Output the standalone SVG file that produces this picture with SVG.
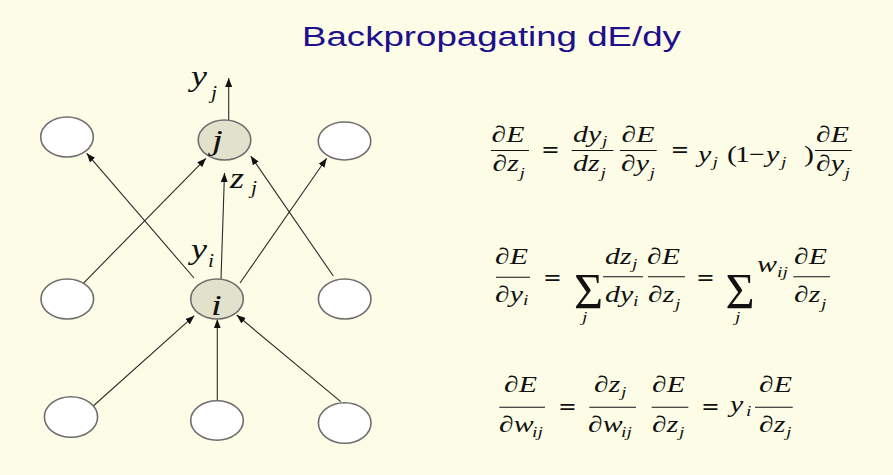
<svg xmlns="http://www.w3.org/2000/svg" width="893" height="475" viewBox="0 0 893 475">
<style>
.bg{fill:#FDFDE7}
.n{fill:#FFFFFF;stroke:#6E6E6E;stroke-width:1.6}
.h{fill:#E2E2CC;stroke:#6E6E6E;stroke-width:1.6}
.c{stroke:#2A2A2A;stroke-width:1.1;fill:none;marker-end:url(#ah)}
.t{font-family:"Liberation Sans",Arial,sans-serif;font-size:28.2px;fill:#1E0F8C}
.m{font-family:"Liberation Serif","Times New Roman",serif;font-size:23px;fill:#111}
.s{font-family:"Liberation Serif","Times New Roman",serif;font-size:15px;fill:#111;font-style:italic}
.i{font-style:italic}
.lab{font-family:"Liberation Serif","Times New Roman",serif;font-size:30px;font-style:italic;fill:#111}
.lsub{font-family:"Liberation Serif","Times New Roman",serif;font-size:18px;font-style:italic;fill:#111}
.bar{stroke:#111;stroke-width:1.1}
.eq{font-family:"Liberation Serif","Times New Roman",serif;font-size:23px;fill:#111;font-weight:bold}
.sig{font-family:"Liberation Serif","Times New Roman",serif;font-size:50px;fill:#111}
</style>
<defs>
<marker id="ah" markerUnits="userSpaceOnUse" markerWidth="9" markerHeight="7" refX="9" refY="3.5" orient="auto">
<path d="M0,0 L9,3.5 L0,7 z" fill="#111"/>
</marker>
</defs>
<rect class="bg" x="0" y="0" width="893" height="475"/>
<text class="t" transform="translate(302 46) scale(1.3 1)">Backpropagating dE/dy</text>

<g id="connectors">
<line class="c" x1="194" y1="278" x2="86.7" y2="153.3"/>
<line class="c" x1="83.3" y1="283.3" x2="206" y2="158.3"/>
<line class="c" x1="240" y1="283" x2="326.7" y2="158.3"/>
<line class="c" x1="333.3" y1="276" x2="250.7" y2="156"/>
<line class="c" x1="221" y1="279" x2="224.5" y2="173"/>
<line class="c" x1="228.7" y1="120" x2="228.7" y2="78"/>
<line class="c" x1="91" y1="408" x2="194.3" y2="315.7"/>
<line class="c" x1="217.3" y1="400.7" x2="217.3" y2="319.3"/>
<line class="c" x1="340.7" y1="401.7" x2="236.7" y2="315"/>
</g>

<g id="node-top-left"><ellipse class="n" cx="67" cy="137" rx="26.3" ry="20"/></g>
<g id="node-j"><ellipse class="h" cx="224.5" cy="140" rx="26.3" ry="20"/><text class="lab" transform="translate(212 150) scale(1.3 1)">j</text></g>
<g id="node-top-right"><ellipse class="n" cx="344.5" cy="141" rx="26.3" ry="19"/></g>
<g id="node-mid-left"><ellipse class="n" cx="67.3" cy="299" rx="26.3" ry="20"/></g>
<g id="node-i"><ellipse class="h" cx="217" cy="299" rx="26.3" ry="20"/><text class="lab" transform="translate(211 315) scale(1.3 1)">i</text></g>
<g id="node-mid-right"><ellipse class="n" cx="344.7" cy="299" rx="26.3" ry="20"/></g>
<g id="node-bot-left"><ellipse class="n" cx="71" cy="417" rx="26.6" ry="20.3"/></g>
<g id="node-bot-mid"><ellipse class="n" cx="217" cy="420.5" rx="26.3" ry="19.7"/></g>
<g id="node-bot-right"><ellipse class="n" cx="344.7" cy="423" rx="26.3" ry="20.3"/></g>

<g id="labels">
<text class="lab" transform="translate(191 86) scale(1.2 1)">y</text><text class="lsub" transform="translate(211 99) scale(1.2 1)">j</text>
<text class="lab" transform="translate(230 188) scale(1.2 1)">z</text><text class="lsub" transform="translate(251 194) scale(1.2 1)">j</text>
<text class="lab" transform="translate(191 259) scale(1.2 1)">y</text><text class="lsub" transform="translate(208 267) scale(1.2 1)">i</text>
</g>

<g id="eq1">
<text class="m" transform="translate(491.5 142) scale(1.3 1)">∂<tspan class="i">E</tspan></text>
<line class="bar" x1="491" y1="150.5" x2="529" y2="150.5"/>
<text class="m" transform="translate(492.5 171) scale(1.3 1)">∂<tspan class="i">z</tspan></text><text class="s" transform="translate(519.5 178) scale(1.3 1)">j</text>
<text class="eq" transform="translate(542 158) scale(1.3 1)">=</text>
<text class="m i" transform="translate(573 141.5) scale(1.3 1)">dy</text><text class="s" transform="translate(602 146) scale(1.3 1)">j</text>
<line class="bar" x1="571.7" y1="150.5" x2="613.3" y2="150.5"/>
<text class="m i" transform="translate(573 171) scale(1.3 1)">dz</text><text class="s" transform="translate(600.5 178) scale(1.3 1)">j</text>
<text class="m" transform="translate(621.5 142) scale(1.3 1)">∂<tspan class="i">E</tspan></text>
<line class="bar" x1="620" y1="150.5" x2="656.7" y2="150.5"/>
<text class="m" transform="translate(621 171) scale(1.3 1)">∂<tspan class="i">y</tspan></text><text class="s" transform="translate(649.5 178) scale(1.3 1)">j</text>
<text class="eq" transform="translate(671.5 158) scale(1.3 1)">=</text>
<text class="m i" transform="translate(698 162) scale(1.3 1)">y</text><text class="s" transform="translate(712.5 167) scale(1.3 1)">j</text>
<text class="m" transform="translate(727 162) scale(1.3 1)">(</text>
<text class="m" transform="translate(735 162) scale(1.3 1)">1</text>
<text class="m" transform="translate(749 162) scale(1.2 1)">−</text>
<text class="m i" transform="translate(766 162) scale(1.3 1)">y</text><text class="s" transform="translate(781 167) scale(1.3 1)">j</text>
<text class="m" transform="translate(804 162) scale(1.3 1)">)</text>
<text class="m" transform="translate(816 142) scale(1.3 1)">∂<tspan class="i">E</tspan></text>
<line class="bar" x1="815" y1="150.5" x2="851.7" y2="150.5"/>
<text class="m" transform="translate(816 171) scale(1.3 1)">∂<tspan class="i">y</tspan></text><text class="s" transform="translate(844.5 178) scale(1.3 1)">j</text>
</g>

<g id="eq2">
<text class="m" transform="translate(495 264) scale(1.3 1)">∂<tspan class="i">E</tspan></text>
<line class="bar" x1="496" y1="277.3" x2="530" y2="277.3"/>
<text class="m" transform="translate(495 302) scale(1.3 1)">∂<tspan class="i">y</tspan></text><text class="s" transform="translate(523 305) scale(1.3 1)">i</text>
<text class="eq" transform="translate(544 286) scale(1.3 1)">=</text>
<text class="sig" x="574" y="308">Σ</text><text class="s" transform="translate(582 322) scale(1.3 1)">j</text>
<text class="m i" transform="translate(605 264) scale(1.3 1)">dz</text><text class="s" transform="translate(632 269) scale(1.3 1)">j</text>
<line class="bar" x1="603" y1="276.7" x2="643" y2="276.7"/>
<text class="m i" transform="translate(605 302) scale(1.3 1)">dy</text><text class="s" transform="translate(633 306) scale(1.3 1)">i</text>
<text class="m" transform="translate(647 264) scale(1.3 1)">∂<tspan class="i">E</tspan></text>
<line class="bar" x1="648" y1="276.7" x2="685" y2="276.7"/>
<text class="m" transform="translate(648 302) scale(1.3 1)">∂<tspan class="i">z</tspan></text><text class="s" transform="translate(675 309) scale(1.3 1)">j</text>
<text class="eq" transform="translate(697 286) scale(1.3 1)">=</text>
<text class="sig" x="725.5" y="308">Σ</text><text class="s" transform="translate(735 322) scale(1.3 1)">j</text>
<text class="m i" transform="translate(757 272) scale(1.3 1)">w</text><text class="s" transform="translate(777 277) scale(1.3 1)">ij</text>
<text class="m" transform="translate(794 264) scale(1.3 1)">∂<tspan class="i">E</tspan></text>
<line class="bar" x1="793.3" y1="276.7" x2="830" y2="276.7"/>
<text class="m" transform="translate(794 302) scale(1.3 1)">∂<tspan class="i">z</tspan></text><text class="s" transform="translate(821 309) scale(1.3 1)">j</text>
</g>

<g id="eq3">
<text class="m" transform="translate(504 391.5) scale(1.3 1)">∂<tspan class="i">E</tspan></text>
<line class="bar" x1="499.3" y1="407.3" x2="545" y2="407.3"/>
<text class="m" transform="translate(499 431.5) scale(1.3 1)">∂<tspan class="i">w</tspan></text><text class="s" transform="translate(532 437) scale(1.3 1)">ij</text>
<text class="eq" transform="translate(559 415) scale(1.3 1)">=</text>
<text class="m" transform="translate(594 391.5) scale(1.3 1)">∂<tspan class="i">z</tspan></text><text class="s" transform="translate(621 397) scale(1.3 1)">j</text>
<line class="bar" x1="589.3" y1="407.3" x2="636" y2="407.3"/>
<text class="m" transform="translate(588 431.5) scale(1.3 1)">∂<tspan class="i">w</tspan></text><text class="s" transform="translate(621 437) scale(1.3 1)">ij</text>
<text class="m" transform="translate(652 391.5) scale(1.3 1)">∂<tspan class="i">E</tspan></text>
<line class="bar" x1="651.7" y1="407.3" x2="688.3" y2="407.3"/>
<text class="m" transform="translate(652 431.5) scale(1.3 1)">∂<tspan class="i">z</tspan></text><text class="s" transform="translate(679 437) scale(1.3 1)">j</text>
<text class="eq" transform="translate(702 415) scale(1.3 1)">=</text>
<text class="m i" transform="translate(730 412) scale(1.3 1)">y</text><text class="s" transform="translate(746 416) scale(1.3 1)">i</text>
<text class="m" transform="translate(759 391.5) scale(1.3 1)">∂<tspan class="i">E</tspan></text>
<line class="bar" x1="755" y1="407.3" x2="792.7" y2="407.3"/>
<text class="m" transform="translate(759 431.5) scale(1.3 1)">∂<tspan class="i">z</tspan></text><text class="s" transform="translate(786 437) scale(1.3 1)">j</text>
</g>
</svg>
